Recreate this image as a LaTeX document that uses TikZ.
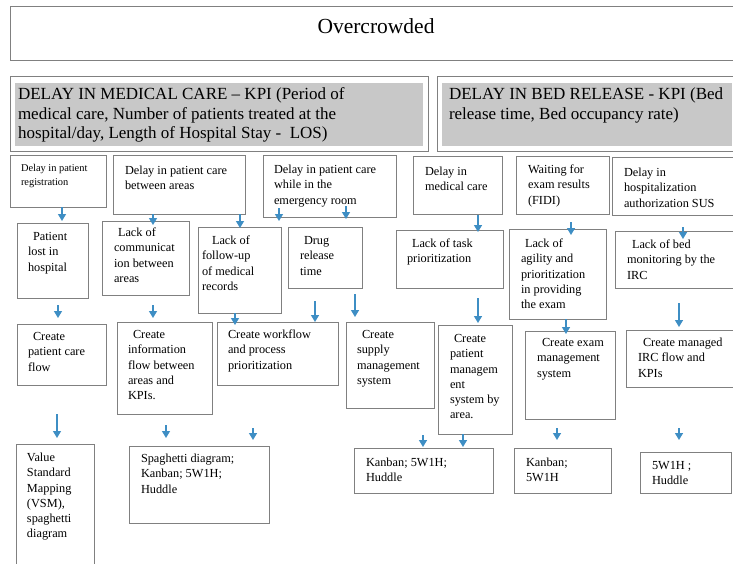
\documentclass[tikz,border=0pt]{standalone}
\usepackage{fontspec}
\setmainfont{Liberation Serif}
\usetikzlibrary{arrows.meta,calc}

\definecolor{framegray}{RGB}{128,128,128}
\definecolor{bandgray}{RGB}{200,200,200}
\definecolor{linkblue}{RGB}{62,142,196}

\tikzset{
  box/.style={draw=framegray, line width=1pt, fill=white, anchor=north west,
              inner sep=0pt, outer sep=0pt},
  band/.style={fill=bandgray, anchor=north west, inner sep=0pt, outer sep=0pt},
  txt/.style={anchor=north west, inner sep=0pt, outer sep=0pt, align=left,
              font=\fontsize{12.3}{15.2}\selectfont},
  small/.style={txt, font=\fontsize{10.4}{14}\selectfont},
  head/.style={txt, font=\fontsize{17}{19.5}\selectfont},
  link/.style={draw=linkblue, line width=1.4pt, -{Triangle[width=8pt,length=7pt]}},
}

% framed box: name, left, top, right, bottom
\newcommand\frameat[5]{\node[box, minimum width={#4-#2}, minimum height={#5-#3}] (#1) at (#2,#3) {};}
% vertical link at column x: from-node, gap below it, to-node, gap above it
\newcommand\vlink[5]{%
  \path (#1,0) coordinate (vx);
  \draw[link] ($(#2.south -| vx)+(0,#3)$) -- ($(#4.north -| vx)+(0,{-(#5)})$);}

\begin{document}
\begin{tikzpicture}[x=1pt,y=-1pt]
\useasboundingbox (0,0) rectangle (733,564);
\clip (0,0) rectangle (733,564);
\fill[white] (0,0) rectangle (733,564);

% title
\frameat{top}{10}{7}{745}{61}
\node[inner sep=0pt, font=\fontsize{21.5}{24}\selectfont] (title) at (376,26) {Overcrowded};

% KPI headers
\frameat{hl}{10}{77}{428}{152}
\node[band, minimum width=408, minimum height=63] (hlband) at (15,83) {};
\node[head] (hl-t) at (18,86) {\strut DELAY IN MEDICAL CARE -- KPI (Period of\\medical care, Number of patients treated at the\\hospital/day, Length of Hospital Stay -\ \ LOS)};
\frameat{hr}{437}{77}{745}{152}
\node[band, minimum width=290, minimum height=63] (hrband) at (442,83) {};
\node[head] (hr-t) at (449,86) {\strut DELAY IN BED RELEASE - KPI (Bed\\release time, Bed occupancy rate)};

% problems
\frameat{reg}{10}{156}{106}{207}
\frameat{bet}{113}{156}{245}{214}
\frameat{er}{263}{156}{396}{217}
\frameat{med}{413}{157}{502}{214}
\frameat{wait}{516}{157}{609}{214}
\frameat{sus}{612}{158}{745}{215}
\node[small] (reg-t) at (21,162) {\strut Delay in patient\\registration};
\node[txt] (bet-t) at (125,164) {\strut Delay in patient care\\between areas};
\node[txt] (er-t) at (274,163) {\strut Delay in patient care\\while in the\\emergency room};
\node[txt] (med-t) at (425,165) {\strut Delay in\\medical care};
\node[txt] (wait-t) at (528,163) {\strut Waiting for\\exam results\\(FIDI)};
\node[txt] (sus-t) at (624,166) {\strut Delay in\\hospitalization\\authorization SUS};

% causes
\frameat{lost}{17}{223}{88}{298}
\frameat{comm}{102}{221}{189}{295}
\frameat{foll}{198}{227}{281}{313}
\frameat{drug}{288}{227}{362}{288}
\frameat{task}{396}{230}{503}{288}
\frameat{agil}{509}{229}{606}{319}
\frameat{bed}{615}{231}{733}{288}
\node[txt] (lost-t) at (28,230) {\strut\hspace{5pt}Patient\\lost in\\hospital};
\node[txt] (comm-t) at (114,226) {\strut\hspace{4pt}Lack of\\communicat\\ion between\\areas};
\node[txt] (foll-t) at (202,234) {\strut\hspace{10pt}Lack of\\follow-up\\of medical\\records};
\node[txt] (drug-t) at (300,234) {\strut\hspace{4pt}Drug\\release\\time};
\node[txt] (task-t) at (407,237) {\strut\hspace{5pt}Lack of task\\prioritization};
\node[txt] (agil-t) at (521,237) {\strut\hspace{4pt}Lack of\\agility and\\prioritization\\in providing\\the exam};
\node[txt] (bed-t) at (627,238) {\strut\hspace{5pt}Lack of bed\\monitoring by the\\IRC};

% actions
\frameat{cpf}{17}{324}{106}{385}
\frameat{cif}{117}{322}{212}{414}
\frameat{cwf}{217}{322}{338}{385}
\frameat{csm}{346}{322}{434}{408}
\frameat{cpm}{438}{325}{512}{434}
\frameat{cem}{525}{331}{615}{419}
\frameat{circ}{626}{330}{745}{387}
\node[txt] (cpf-t) at (28,330) {\strut\hspace{5pt}Create\\patient care\\flow};
\node[txt] (cif-t) at (128,328) {\strut\hspace{5pt}Create\\information\\flow between\\areas and\\KPIs.};
\node[txt] (cwf-t) at (228,328) {\strut Create workflow\\and process\\prioritization};
\node[txt] (csm-t) at (357,328) {\strut\hspace{5pt}Create\\supply\\management\\system};
\node[txt] (cpm-t) at (450,332) {\strut\hspace{4pt}Create\\patient\\managem\\ent\\system by\\area.};
\node[txt] (cem-t) at (537,336) {\strut\hspace{5pt}Create exam\\management\\system};
\node[txt] (circ-t) at (638,336) {\strut\hspace{5pt}Create managed\\IRC flow and\\KPIs};

% tools
\frameat{vsm}{16}{444}{94}{600}
\frameat{spag}{129}{446}{269}{523}
\frameat{k1}{354}{448}{493}{493}
\frameat{k2}{514}{448}{611}{493}
\frameat{k3}{640}{452}{731}{493}
\node[txt] (vsm-t) at (27,451) {\strut Value\\Standard\\Mapping\\(VSM),\\spaghetti\\diagram};
\node[txt] (spag-t) at (141,452) {\strut Spaghetti diagram;\\Kanban; 5W1H;\\Huddle};
\node[txt] (k1-t) at (366,456) {\strut Kanban; 5W1H;\\Huddle};
\node[txt] (k2-t) at (526,456) {\strut Kanban;\\5W1H};
\node[txt] (k3-t) at (652,459) {\strut 5W1H ;\\Huddle};

% links: problems to causes
\vlink{62}{reg}{0}{lost}{2}
\vlink{153}{bet}{0}{comm}{-4}
\vlink{240}{bet}{0}{foll}{-1}
\vlink{279}{er}{-9}{foll}{6}
\vlink{346}{er}{-11}{drug}{8}
\vlink{478}{med}{1}{task}{-2}
\vlink{571}{wait}{8}{agil}{-6}
\vlink{683}{sus}{12}{bed}{-8}

% links: causes to actions
\vlink{58}{lost}{7}{cpf}{6}
\vlink{153}{comm}{10}{cif}{4}
\vlink{235}{foll}{0}{cwf}{-3}
\vlink{315}{drug}{13}{cwf}{0}
\vlink{355}{drug}{6}{csm}{5}
\vlink{478}{task}{10}{cpm}{2}
\vlink{566}{agil}{0}{cem}{-3}
\vlink{679}{bed}{15}{circ}{3}

% links: actions to tools
\vlink{57}{cpf}{29}{vsm}{6}
\vlink{166}{cif}{11}{spag}{8}
\vlink{253}{cwf}{43}{spag}{6}
\vlink{423}{csm}{27}{k1}{1}
\vlink{463}{cpm}{0}{k1}{1}
\vlink{557}{cem}{9}{k2}{8}
\vlink{679}{circ}{41}{k3}{12}
\end{tikzpicture}
\end{document}
